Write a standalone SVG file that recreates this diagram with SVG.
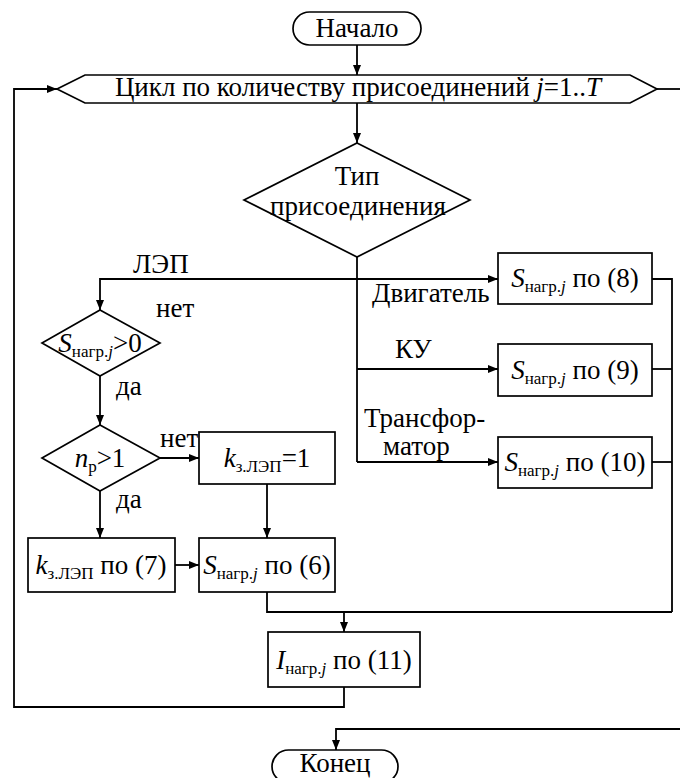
<svg xmlns="http://www.w3.org/2000/svg" width="680" height="778" viewBox="0 0 680 778" font-family="'Liberation Serif', 'Times New Roman', 'DejaVu Serif', serif">
<style>
.s{fill:#fff;stroke:#000;stroke-width:1.7}
.c{fill:none;stroke:#000;stroke-width:1.8}
.t{font-family:'Liberation Serif','Times New Roman','DejaVu Serif',serif;font-size:27px;fill:#000}
.m{text-anchor:middle}
.i{font-style:italic}
.sub{font-size:17px}
</style>
<defs>
<marker id="a" markerUnits="userSpaceOnUse" markerWidth="10" markerHeight="8" refX="10" refY="4" orient="auto">
<path d="M0,0 L10,4 L0,8 z" fill="#000"/>
</marker>
</defs>
<rect width="680" height="778" fill="#fff"/>
<g id="connectors">
<path class="c" d="M357,45 V75" marker-end="url(#a)"/>
<path class="c" d="M357,103 V143" marker-end="url(#a)"/>
<path class="c" d="M357,257 V462"/>
<path class="c" d="M357,279 H100 V310" marker-end="url(#a)"/>
<path class="c" d="M357,279 H498" marker-end="url(#a)"/>
<path class="c" d="M357,369 H498" marker-end="url(#a)"/>
<path class="c" d="M357,462 H498" marker-end="url(#a)"/>
<path class="c" d="M652,279 H672 V612"/>
<path class="c" d="M652,369 H672"/>
<path class="c" d="M652,462 H672"/>
<path class="c" d="M100,376 V425" marker-end="url(#a)"/>
<path class="c" d="M160,458 H199" marker-end="url(#a)"/>
<path class="c" d="M100,491 V538" marker-end="url(#a)"/>
<path class="c" d="M267,484 V538" marker-end="url(#a)"/>
<path class="c" d="M175,565 H199" marker-end="url(#a)"/>
<path class="c" d="M267,592 V612 H672"/>
<path class="c" d="M344,612 V632" marker-end="url(#a)"/>
<path class="c" d="M344,687 V707 H14 V89 H57" marker-end="url(#a)"/>
<path class="c" d="M657,89 H680"/>
<path class="c" d="M680,729 H336 V750" marker-end="url(#a)"/>
</g>
<g id="start">
<rect class="s" x="293" y="12" width="128" height="33" rx="16.5"/>
<text class="t m" x="357" y="37">Начало</text>
</g>
<g id="loop">
<polygon class="s" points="57,89 85,75 630,75 657,89 630,103 85,103"/>
<text class="t m" x="358" y="96">Цикл по количеству присоединений <tspan class="i">j</tspan>=1..<tspan class="i">T</tspan></text>
</g>
<g id="type">
<polygon class="s" points="357,143 470,200 357,257 244,200"/>
<text class="t m" x="357" y="185">Тип</text>
<text class="t m" x="358" y="215">присоединения</text>
</g>
<g id="labels">
<text class="t" x="133" y="273">ЛЭП</text>
<text class="t" x="372" y="302">Двигатель</text>
<text class="t" x="395" y="358">КУ</text>
<text class="t" x="364" y="427">Трансфор-</text>
<text class="t" x="383" y="455">матор</text>
<text class="t" x="156" y="317">нет</text>
<text class="t" x="116" y="395">да</text>
<text class="t" x="160" y="447">нет</text>
<text class="t" x="116" y="508">да</text>
</g>
<g id="s8">
<rect class="s" x="498" y="253" width="154" height="51"/>
<text class="t m" x="575" y="287"><tspan class="i">S</tspan><tspan class="sub" dy="5">нагр.</tspan><tspan class="sub i">j</tspan><tspan dy="-5"> по (8)</tspan></text>
</g>
<g id="s9">
<rect class="s" x="498" y="344" width="154" height="52"/>
<text class="t m" x="575" y="379"><tspan class="i">S</tspan><tspan class="sub" dy="5">нагр.</tspan><tspan class="sub i">j</tspan><tspan dy="-5"> по (9)</tspan></text>
</g>
<g id="s10">
<rect class="s" x="498" y="437" width="154" height="51"/>
<text class="t m" x="575" y="471"><tspan class="i">S</tspan><tspan class="sub" dy="5">нагр.</tspan><tspan class="sub i">j</tspan><tspan dy="-5"> по (10)</tspan></text>
</g>
<g id="sgt0">
<polygon class="s" points="100,310 160,343 100,376 42,343"/>
<text class="t m" x="100" y="352"><tspan class="i">S</tspan><tspan class="sub" dy="5">нагр.</tspan><tspan class="sub i">j</tspan><tspan dy="-5">&gt;0</tspan></text>
</g>
<g id="np">
<polygon class="s" points="100,425 160,458 100,491 42,458"/>
<text class="t m" x="100" y="467"><tspan class="i">n</tspan><tspan class="sub" dy="5">р</tspan><tspan dy="-5">&gt;1</tspan></text>
</g>
<g id="k1">
<rect class="s" x="199" y="432" width="136" height="52"/>
<text class="t m" x="267" y="467"><tspan class="i">k</tspan><tspan class="sub" dy="5">з.ЛЭП</tspan><tspan dy="-5">=1</tspan></text>
</g>
<g id="k7">
<rect class="s" x="28" y="538" width="147" height="54"/>
<text class="t m" x="101" y="574"><tspan class="i">k</tspan><tspan class="sub" dy="5">з.ЛЭП</tspan><tspan dy="-5"> по (7)</tspan></text>
</g>
<g id="s6">
<rect class="s" x="199" y="538" width="136" height="54"/>
<text class="t m" x="267" y="574"><tspan class="i">S</tspan><tspan class="sub" dy="5">нагр.</tspan><tspan class="sub i">j</tspan><tspan dy="-5"> по (6)</tspan></text>
</g>
<g id="i11">
<rect class="s" x="268" y="632" width="152" height="55"/>
<text class="t m" x="344" y="669"><tspan class="i">I</tspan><tspan class="sub" dy="5">нагр.</tspan><tspan class="sub i">j</tspan><tspan dy="-5"> по (11)</tspan></text>
</g>
<g id="end">
<rect class="s" x="272" y="750" width="126" height="33" rx="16.5"/>
<text class="t m" x="335" y="772">Конец</text>
</g>
</svg>
